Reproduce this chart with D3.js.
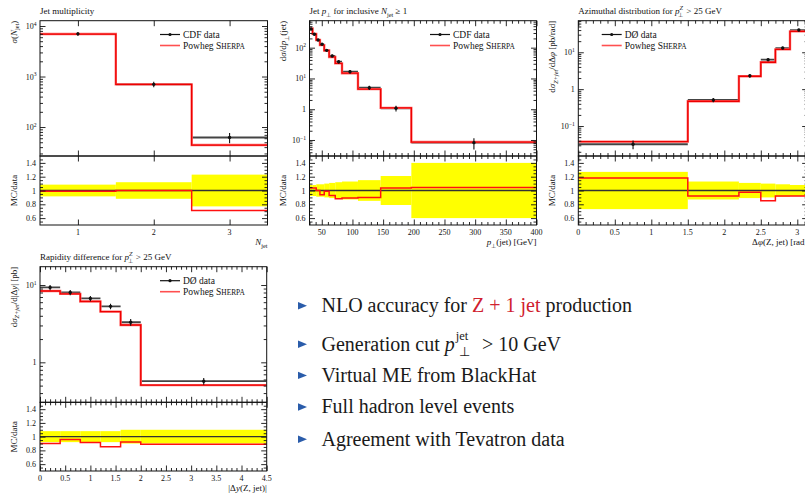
<!DOCTYPE html>
<html><head><meta charset="utf-8">
<script src="https://cdn.jsdelivr.net/npm/d3@7"></script>
<style>
body{margin:0;background:#fff;}
svg{display:block;font-family:"Liberation Serif","Times New Roman",serif;}
</style></head><body>
<svg id="c" width="805" height="493"></svg>
<script>
// ---------- data ----------
const multEdges = [0.5, 1.5, 2.5, 3.5];
const multData  = [7000, 700, 62];
const multMC    = [6930, 700, 44];
const multErr   = [0.085, 0.12, 0.23];
const multTicks = [1, 2, 3];

const ptEdges = [30, 35, 41, 47, 54, 62, 72, 83, 109, 146, 196, 400];
const ptData  = [405, 272, 178, 129, 82, 54, 35, 16.6, 5.0, 1.07, 0.082];
const ptMC    = [419, 282, 178, 121, 81, 50, 30.8, 14.8, 4.5, 1.11, 0.0857];
const ptErr   = [0.08, 0.08, 0.09, 0.09, 0.10, 0.11, 0.12, 0.13, 0.15, 0.21, 0.40];
const ptTicks = [50, 100, 150, 200, 250, 300, 350, 400];

const phiEdges = [0, 1.5, 2.2, 2.5, 2.7, 2.9, Math.PI];
const phiData  = [0.032, 0.51, 2.3, 6.3, 13, 40];
const phiMC    = [0.0378, 0.469, 2.24, 5.36, 11.96, 36.8];
const phiErr   = [0.27, 0.13, 0.11, 0.10, 0.09, 0.08];
const phiTicks = [0, 0.5, 1, 1.5, 2, 2.5, 3];

const dyEdges = [0, 0.4, 0.8, 1.2, 1.6, 2.0, 4.5];
const dyData  = [9.3, 8.0, 6.7, 5.3, 3.3, 0.57];
const dyMC    = [8.37, 7.68, 6.13, 4.53, 3.04, 0.507];
const dyErr   = [0.08, 0.08, 0.08, 0.08, 0.10, 0.10];
const dyTicks = [0, 0.5, 1, 1.5, 2, 2.5, 3, 3.5, 4, 4.5];

const ratioTicks = [0.6, 0.8, 1, 1.2, 1.4];
const bulletTexts = [
  "NLO accuracy for", "Generation cut", "Virtual ME from BlackHat",
  "Full hadron level events", "Agreement with Tevatron data"
];

// ---------- helpers ----------
const svg = d3.select("#c");
const defs = svg.append("defs");
const INK = "#111";

function rich(t, parts, base) {
  let cur = 0;
  parts.forEach(p => {
    if (typeof p === "string") p = {t: p};
    const ts = t.append("tspan").text(p.t);
    let target = p.sub ? base * 0.32 : p.sup ? -base * 0.42 : 0;
    if (p.off !== undefined) target = p.off;
    const dy = target - cur;
    if (Math.abs(dy) > 1e-6) ts.attr("dy", dy);
    cur = target;
    if (p.sub || p.sup) ts.attr("font-size", base * 0.7);
    if (p.fs) ts.attr("font-size", p.fs);
    if (p.i) ts.attr("font-style", "italic");
    if (p.dx) ts.attr("dx", p.dx);
    if (p.sc) ts.attr("font-size", base * 0.78);
    if (p.fill) ts.attr("fill", p.fill);
  });
  return t;
}

function drawPanel(c) {
  const g = svg.append("g");
  const x = d3.scaleLinear().domain(c.xDomain).range([c.x0, c.x1]);
  const y = d3.scaleLog().domain(c.yDomain).range([c.yMid, c.yTop]);
  const r = d3.scaleLinear().domain([0.5, 1.5]).range([c.yBot, c.yMid]);
  const W = c.x1 - c.x0;

  defs.append("clipPath").attr("id", c.id + "m").append("rect")
    .attr("x", c.x0).attr("y", c.yTop).attr("width", W).attr("height", c.yMid - c.yTop);
  defs.append("clipPath").attr("id", c.id + "r").append("rect")
    .attr("x", c.x0).attr("y", c.yMid).attr("width", W).attr("height", c.yBot - c.yMid);

  const bins = c.data.map((d, i) => ({lo: c.edges[i], hi: c.edges[i + 1], d, mc: c.mc[i], e: c.err[i]}));
  const step = (vals, sc) => {
    let p = "";
    bins.forEach((b, i) => {
      const yy = sc(vals[i]);
      p += (i === 0 ? `M${x(b.lo)},${yy}` : `V${yy}`) + `H${x(b.hi)}`;
    });
    return p;
  };

  // ratio panel
  const rg = g.append("g").attr("clip-path", `url(#${c.id}r)`);
  rg.selectAll("rect.band").data(bins).join("rect")
    .attr("x", b => x(b.lo)).attr("width", b => x(b.hi) - x(b.lo))
    .attr("y", b => r(1 + b.e)).attr("height", b => r(1 - b.e) - r(1 + b.e))
    .attr("fill", "#ffff00");
  rg.append("line").attr("x1", c.x0).attr("x2", c.x1).attr("y1", r(1)).attr("y2", r(1))
    .attr("stroke", "#333").attr("stroke-width", 1.4);
  rg.append("path").attr("d", step(bins.map(b => b.mc / b.d), r))
    .attr("fill", "none").attr("stroke", "#ff1010").attr("stroke-width", 1.5);

  // main panel
  const mg = g.append("g").attr("clip-path", `url(#${c.id}m)`);
  mg.selectAll("line.dh").data(bins).join("line")
    .attr("x1", b => x(b.lo)).attr("x2", b => x(b.hi))
    .attr("y1", b => y(b.d)).attr("y2", b => y(b.d))
    .attr("stroke", "#444").attr("stroke-width", 1.8);
  mg.append("path").attr("d", step(bins.map(b => b.mc), y))
    .attr("fill", "none").attr("stroke", "#ff6a6a").attr("stroke-width", 2.4);
  mg.append("path").attr("d", step(bins.map(b => b.mc), y))
    .attr("fill", "none").attr("stroke", "#ee0000").attr("stroke-width", 1.3);
  mg.selectAll("line.ev").data(bins).join("line")
    .attr("x1", b => x((b.lo + b.hi) / 2)).attr("x2", b => x((b.lo + b.hi) / 2))
    .attr("y1", b => y(b.d * (1 - b.e))).attr("y2", b => y(b.d * (1 + b.e)))
    .attr("stroke", INK).attr("stroke-width", 1.1);
  mg.selectAll("circle").data(bins).join("circle")
    .attr("cx", b => x((b.lo + b.hi) / 2)).attr("cy", b => y(b.d)).attr("r", 1.7)
    .attr("fill", INK);

  // frames
  [[c.yTop, c.yMid], [c.yMid, c.yBot]].forEach(([a, b]) =>
    g.append("rect").attr("x", c.x0).attr("y", a).attr("width", W).attr("height", b - a)
      .attr("fill", "none").attr("stroke", INK).attr("stroke-width", 1));

  // ticks
  const tickAxis = (axisFn, scale, vals, len, tx, ty) => {
    const a = axisFn(scale).tickValues(vals).tickSize(-len).tickSizeOuter(0).tickFormat("");
    const ag = g.append("g").attr("transform", `translate(${tx},${ty})`).call(a);
    ag.select(".domain").remove();
    ag.selectAll("line").attr("stroke", INK).attr("stroke-width", 0.9);
  };
  const minorX = c.minorStep ? d3.range(c.xDomain[0], c.xDomain[1] + 1e-9, c.minorStep)
      .filter(v => !c.xTicks.some(t => Math.abs(t - v) < 1e-6)) : [];
  [[c.yTop, d3.axisTop], [c.yMid, d3.axisBottom], [c.yMid, d3.axisTop], [c.yBot, d3.axisBottom]]
    .forEach(([yy, fn]) => {
      tickAxis(fn, x, c.xTicks, 5.5, 0, yy);
      if (minorX.length) tickAxis(fn, x, minorX, 3, 0, yy);
    });
  const lt = y.ticks();
  const majY = lt.filter(v => Math.abs(Math.log10(v) - Math.round(Math.log10(v))) < 1e-6);
  const minY = lt.filter(v => !majY.includes(v));
  [[c.x0, d3.axisLeft], [c.x1, d3.axisRight]].forEach(([xx, fn]) => {
    tickAxis(fn, y, majY, 5.5, xx, 0);
    tickAxis(fn, y, minY, 3, xx, 0);
    tickAxis(fn, r, ratioTicks, 5.5, xx, 0);
    tickAxis(fn, r, d3.range(0.55, 1.5, 0.05).filter(v => !ratioTicks.some(t => Math.abs(t - v) < 1e-6)), 3, xx, 0);
  });

  // tick labels
  const lab = g.append("g").attr("font-size", 8).attr("fill", INK);
  c.xTicks.forEach(v => lab.append("text").attr("x", x(v)).attr("y", c.yBot + 10)
    .attr("text-anchor", "middle").text(String(v)));
  majY.forEach(v => {
    const e = Math.round(Math.log10(v));
    const t = lab.append("text").attr("x", c.x0 - 3.5).attr("y", y(v) + 3).attr("text-anchor", "end");
    if (e === 0) t.text("1");
    else rich(t, ["10", {t: e < 0 ? "\u2212" + (-e) : String(e), sup: true}], 8);
  });
  ratioTicks.forEach(v => lab.append("text").attr("x", c.x0 - 4).attr("y", r(v) + 3)
    .attr("text-anchor", "end").text(String(v)));

  // title
  rich(g.append("text").attr("x", c.x0).attr("y", c.yTop - 6.5).attr("font-size", 9).attr("fill", INK), c.title, 9);
  // y label (main)
  rich(g.append("text").attr("transform", `translate(${c.x0 - 23.5},${c.yTop}) rotate(-90)`)
    .attr("text-anchor", "end").attr("font-size", 9).attr("fill", INK), c.ylab, 9);
  // ratio label
  g.append("text").attr("transform", `translate(${c.x0 - 23.5},${(c.yMid + c.yBot) / 2}) rotate(-90)`)
    .attr("text-anchor", "middle").attr("font-size", 9).attr("fill", INK).text("MC/data");
  // x label
  rich(g.append("text").attr("x", c.x1).attr("y", c.yBot + 20).attr("text-anchor", "end")
    .attr("font-size", 9).attr("fill", INK), c.xlab, 9);

  // legend
  const L = g.append("g");
  const [lx, ly] = c.leg;
  L.append("line").attr("x1", lx).attr("x2", lx + 20).attr("y1", ly).attr("y2", ly)
    .attr("stroke", INK).attr("stroke-width", 1.2);
  L.append("circle").attr("cx", lx + 10).attr("cy", ly).attr("r", 1.6).attr("fill", INK);
  L.append("line").attr("x1", lx).attr("x2", lx + 20).attr("y1", ly + 11).attr("y2", ly + 11)
    .attr("stroke", "#ff5050").attr("stroke-width", 1.6);
  L.append("text").attr("x", lx + 23).attr("y", ly + 3).attr("font-size", 9.5).attr("fill", INK).text(c.dataName);
  rich(L.append("text").attr("x", lx + 23).attr("y", ly + 14).attr("font-size", 9.5).attr("fill", INK),
    ["Powheg S", {t: "HERPA", sc: true}], 9.5);
}

const top1 = 20.7, mid1 = 156, bot1 = 225;
drawPanel({
  id: "p1", x0: 40, x1: 267.5, yTop: top1, yMid: mid1, yBot: bot1,
  xDomain: [0.5, 3.5], yDomain: [26.7, 12735], edges: multEdges, data: multData, mc: multMC, err: multErr,
  xTicks: multTicks, minorStep: null, leg: [160, 34.5], dataName: "CDF data",
  title: ["Jet multiplicity"],
  ylab: [{t: "\u03c3", i: true}, "(", {t: "N", i: true}, {t: "jet", sub: true}, {t: ")", off: 0}],
  xlab: [{t: "N", i: true}, {t: "jet", sub: true}]
});
drawPanel({
  id: "p2", x0: 309.5, x1: 536.5, yTop: top1, yMid: mid1, yBot: bot1,
  xDomain: [30, 400], yDomain: [0.0302, 753], edges: ptEdges, data: ptData, mc: ptMC, err: ptErr,
  xTicks: ptTicks, minorStep: 10, leg: [430, 34.5], dataName: "CDF data",
  title: ["Jet ", {t: "p", i: true}, {t: "\u22a5", sub: true}, {t: " for inclusive ", off: 0}, {t: "N", i: true},
          {t: "jet", sub: true}, {t: " \u2265 1", off: 0}],
  ylab: ["d", {t: "\u03c3", i: true}, "/d", {t: "p", i: true}, {t: "\u22a5", sub: true}, {t: "(jet)", off: 0}],
  xlab: [{t: "p", i: true}, {t: "\u22a5", sub: true}, {t: "(jet) [GeV]", off: 0}]
});
drawPanel({
  id: "p3", x0: 578.3, x1: 578.3 + 73 * Math.PI, yTop: top1, yMid: mid1, yBot: bot1,
  xDomain: [0, Math.PI], yDomain: [0.01538, 71.8], edges: phiEdges, data: phiData, mc: phiMC, err: phiErr,
  xTicks: phiTicks, minorStep: 0.1, leg: [601.7, 34.5], dataName: "D\u00d8 data",
  title: ["Azimuthal distribution for ", {t: "p", i: true}, {t: "Z", sup: true, i: true},
          {t: "\u22a5", sub: true, dx: -5}, {t: " > 25 GeV", off: 0, dx: 1}],
  ylab: ["d", {t: "\u03c3", i: true}, {t: "Z+jet", sub: true, i: true}, {t: "/d\u0394", off: 0}, {t: "\u03c6", i: true}, " [pb/rad]"],
  xlab: ["\u0394", {t: "\u03c6", i: true}, "(Z, jet) [rad]"]
});
drawPanel({
  id: "p4", x0: 40, x1: 266.7, yTop: 266.7, yMid: 402.3, yBot: 471,
  xDomain: [0, 4.5], yDomain: [0.304, 17.26], edges: dyEdges, data: dyData, mc: dyMC, err: dyErr,
  xTicks: dyTicks, minorStep: 0.1, leg: [160, 280.7], dataName: "D\u00d8 data",
  title: ["Rapidity difference for ", {t: "p", i: true}, {t: "Z", sup: true, i: true},
          {t: "\u22a5", sub: true, dx: -5}, {t: " > 25 GeV", off: 0, dx: 1}],
  ylab: ["d", {t: "\u03c3", i: true}, {t: "Z+jet", sub: true, i: true}, {t: "/d|\u0394", off: 0}, {t: "y", i: true}, "| [pb]"],
  xlab: ["|\u0394", {t: "y", i: true}, "(Z, jet)|"]
});

// ---------- bullets ----------
const FS = 20;
const baseY = [312, 350.5, 381.7, 413.3, 445.5];
const bg = svg.append("g").attr("font-size", FS).attr("fill", "#1a1a1a");
baseY.forEach((by, i) => {
  bg.append("path").attr("d", `M298,${by - 10}L307,${by - 6.3}L298,${by - 2.6}Z`).attr("fill", "#2a5caa");
  const t = bg.append("text").attr("x", 321.5).attr("y", by);
  if (i === 0) {
    rich(t, [bulletTexts[0] + " ", {t: "Z + 1 jet", fill: "#d0202e"}, " production"], FS);
  } else if (i === 1) {
    rich(t, [bulletTexts[1] + " ", {t: "p", i: true}, {t: "jet", off: -10.5, fs: 12.5, dx: 1}], FS);
    rich(bg.append("text").attr("x", 459).attr("y", by + 5).attr("font-size", 12.5), ["\u22a5"], 12.5);
    rich(bg.append("text").attr("x", 482).attr("y", by), ["> 10 GeV"], FS);
  } else {
    t.text(bulletTexts[i]);
  }
});
</script>
</body></html>
